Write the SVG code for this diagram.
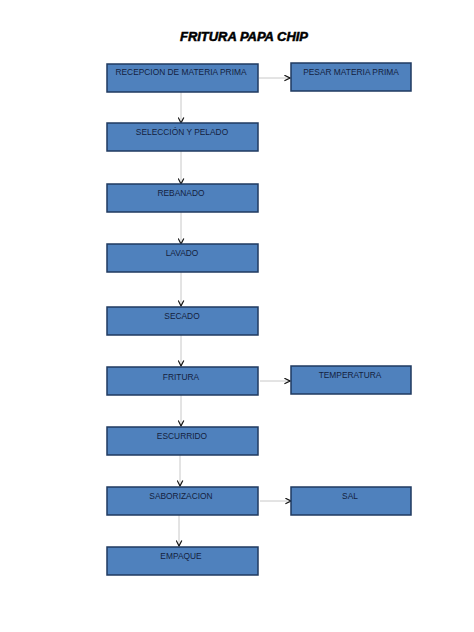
<svg xmlns="http://www.w3.org/2000/svg" width="474" height="632" viewBox="0 0 474 632">
<defs>
<marker id="chev" viewBox="0 0 10 10" refX="9" refY="5" markerWidth="7" markerHeight="7" markerUnits="userSpaceOnUse" orient="auto">
<path d="M1,1 L9,5 L1,9" fill="none" stroke="#111" stroke-width="1.7"/>
</marker>
<style>
.box{fill:#4F81BD;stroke:#1F3A60;stroke-width:1.5}
.lbl{font-family:"Liberation Sans",Arial,sans-serif;font-size:8.4px;fill:#14213D;text-anchor:middle}
.con{stroke:#C8C8C8;stroke-width:1;fill:none;marker-end:url(#chev)}
.title{font-family:"Liberation Sans",Arial,sans-serif;font-size:12.5px;font-weight:bold;font-style:italic;fill:#000;stroke:#000;stroke-width:0.5;text-anchor:middle}
</style>
</defs>
<rect width="474" height="632" fill="#fff"/>
<text class="title" x="244" y="41" textLength="128" lengthAdjust="spacingAndGlyphs">FRITURA PAPA CHIP</text>
<g id="connectors">
<line class="con" x1="181" y1="92" x2="181" y2="123"/>
<line class="con" x1="181" y1="151" x2="181" y2="184"/>
<line class="con" x1="181" y1="212" x2="181" y2="244"/>
<line class="con" x1="181" y1="272" x2="181" y2="306"/>
<line class="con" x1="181" y1="335" x2="181" y2="366"/>
<line class="con" x1="181" y1="395" x2="181" y2="426"/>
<line class="con" x1="180" y1="455" x2="180" y2="486"/>
<line class="con" x1="179" y1="515" x2="179" y2="546"/>
<line class="con" x1="259" y1="78" x2="290" y2="78"/>
<line class="con" x1="260" y1="381" x2="290" y2="381"/>
<line class="con" x1="260" y1="501" x2="291" y2="501"/>
</g>
<g id="recepcion"><rect class="box" x="107" y="64" width="151" height="28"/><text class="lbl" x="181" y="75">RECEPCION DE MATERIA PRIMA</text></g>
<g id="pesar"><rect class="box" x="291" y="63" width="120" height="28"/><text class="lbl" x="351" y="75">PESAR MATERIA PRIMA</text></g>
<g id="seleccion"><rect class="box" x="107" y="123" width="151" height="28"/><text class="lbl" x="182" y="135">SELECCIÓN Y PELADO</text></g>
<g id="rebanado"><rect class="box" x="107" y="184" width="151" height="28"/><text class="lbl" x="181" y="196">REBANADO</text></g>
<g id="lavado"><rect class="box" x="107" y="244" width="151" height="28"/><text class="lbl" x="182" y="256">LAVADO</text></g>
<g id="secado"><rect class="box" x="107" y="307" width="151" height="28"/><text class="lbl" x="182" y="319">SECADO</text></g>
<g id="fritura"><rect class="box" x="107" y="367" width="151" height="28"/><text class="lbl" x="181" y="380">FRITURA</text></g>
<g id="temperatura"><rect class="box" x="291" y="366" width="120" height="28"/><text class="lbl" x="350" y="378">TEMPERATURA</text></g>
<g id="escurrido"><rect class="box" x="107" y="427" width="151" height="28"/><text class="lbl" x="182" y="439">ESCURRIDO</text></g>
<g id="saborizacion"><rect class="box" x="107" y="487" width="151" height="28"/><text class="lbl" x="181" y="499">SABORIZACION</text></g>
<g id="sal"><rect class="box" x="291" y="487" width="120" height="28"/><text class="lbl" x="350" y="499">SAL</text></g>
<g id="empaque"><rect class="box" x="107" y="547" width="151" height="28"/><text class="lbl" x="181" y="559">EMPAQUE</text></g>
</svg>
